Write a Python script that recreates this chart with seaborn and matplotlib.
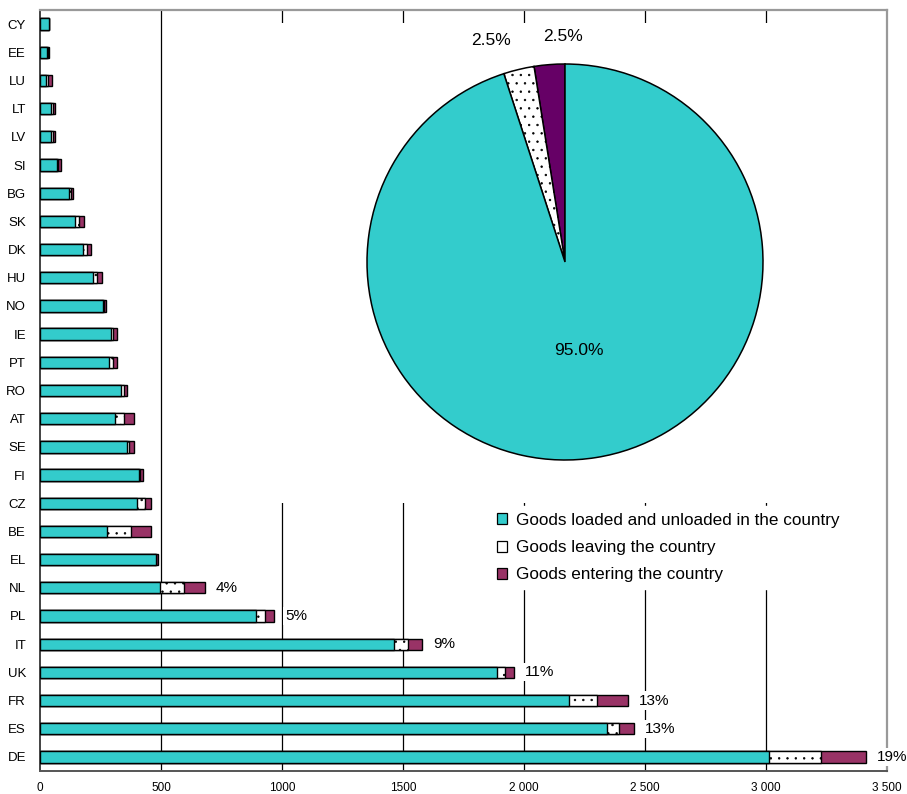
import matplotlib
matplotlib.use("Agg")
import matplotlib.pyplot as plt
from matplotlib.patches import Patch
import numpy as np
import pandas as pd
import seaborn as sns

# ---------------- data ----------------
countries = ["CY", "EE", "LU", "LT", "LV", "SI", "BG", "SK", "DK", "HU", "NO", "IE", "PT", "RO",
             "AT", "SE", "FI", "CZ", "BE", "EL", "NL", "PL", "IT", "UK", "FR", "ES", "DE"]
national = [37, 30, 25, 47, 47, 70, 121, 146, 179, 220, 259, 295, 284, 333,
            311, 358, 408, 402, 278, 478, 497, 893, 1461, 1888, 2186, 2341, 3014]
leaving = [0, 3, 6, 5, 5, 6, 6, 16, 14, 17, 5, 6, 16, 14,
           37, 11, 6, 33, 99, 3, 98, 35, 58, 33, 115, 53, 212]
entering = [0, 5, 19, 10, 9, 9, 9, 20, 16, 19, 9, 18, 19, 11,
            40, 19, 10, 22, 80, 6, 87, 40, 59, 38, 129, 59, 186]

share_countries = ["NL", "PL", "IT", "UK", "FR", "ES", "DE"]
share_values = [4, 5, 9, 11, 13, 13, 19]

series_names = ["Goods loaded and unloaded in the country",
                "Goods leaving the country",
                "Goods entering the country"]

# pie: entering, leaving, national (drawn counter-clockwise from 12 o'clock)
pie_values = [2.5, 2.5, 95.0]

xtick_values = [0, 500, 1000, 1500, 2000, 2500, 3000, 3500]
xtick_labels = ["0", "500", "1000", "1500", "2 000", "2 500", "3 000", "3 500"]

# ---------------- style ----------------
CYAN = "#33CCCC"
BAR_PURPLE = "#993366"
PIE_PURPLE = "#660066"

sns.set_style("white")
plt.rcParams["font.family"] = ["Liberation Sans", "DejaVu Sans"]
plt.rcParams["text.color"] = "black"
plt.rcParams["xtick.color"] = "black"
plt.rcParams["ytick.color"] = "black"
plt.rcParams["xtick.labelcolor"] = "black"
plt.rcParams["ytick.labelcolor"] = "black"
plt.rcParams["hatch.linewidth"] = 0.5
plt.rcParams["hatch.color"] = "#222222"

df = pd.DataFrame({"country": countries, "national": national,
                   "leaving": leaving, "entering": entering})
df["nat_leave"] = df["national"] + df["leaving"]
df["total"] = df["nat_leave"] + df["entering"]

W, H = 907, 794
fig = plt.figure(figsize=(W / 100, H / 100), dpi=100)
ax = fig.add_axes([40 / W, (H - 771) / H, 847 / W, 761 / H])

# grid lines (behind bars)
for v in xtick_values[1:-1]:
    ax.axvline(v, color="black", lw=0.9, zorder=0)

common = dict(y="country", orient="h", width=0.4, edgecolor="black",
              linewidth=1.0, saturation=1, errorbar=None, ax=ax, order=countries)
sns.barplot(data=df, x="total", color=BAR_PURPLE, zorder=2, **common)
sns.barplot(data=df, x="nat_leave", color="white", hatch="..", zorder=3, **common)
sns.barplot(data=df, x="national", color=CYAN, zorder=4, **common)

ax.set_xlim(0, 3500)
ax.set_ylim(len(countries) - 0.5, -0.5)
ax.set_xlabel("")
ax.set_ylabel("")

ax.set_xticks(xtick_values)
ax.set_xticklabels(xtick_labels, fontsize=8.5)
ax.tick_params(axis="x", direction="out", length=5, width=1, color="#333333", pad=3)
ax.tick_params(axis="y", which="major", length=0, pad=10, labelsize=9.5)
ax.set_yticks(np.arange(-0.5, len(countries), 1.0), minor=True)
ax.tick_params(axis="y", which="minor", direction="out", length=5, width=1, color="#555555")

for side in ["top", "right"]:
    ax.spines[side].set_visible(True)
    ax.spines[side].set_color("#999999")
    ax.spines[side].set_linewidth(1.6)
ax.spines["left"].set_color("#222222")
ax.spines["left"].set_linewidth(1.2)
ax.spines["bottom"].set_color("#555555")
ax.spines["bottom"].set_linewidth(1.4)

# share labels at the right of the largest bars
for c, s in zip(share_countries, share_values):
    i = countries.index(c)
    ax.text(df.loc[i, "total"] + 45, i, f"{s}%", ha="left", va="center", fontsize=11,
            zorder=6, bbox=dict(facecolor="white", edgecolor="none", pad=1.5))

# ---------------- pie inset ----------------
pl, pt, pr, pb = 168, 23, 884, 503
pax = fig.add_axes([pl / W, (H - pb) / H, (pr - pl) / W, (pb - pt) / H])
wedges, texts, autotexts = pax.pie(
    pie_values, colors=[PIE_PURPLE, "white", CYAN], startangle=90, counterclock=True,
    autopct="%1.1f%%", pctdistance=1.15,
    wedgeprops=dict(edgecolor="black", linewidth=1.1),
    textprops=dict(fontsize=12.5, color="black"))
wedges[1].set_hatch("..")

# label positions
t1 = np.deg2rad(wedges[0].theta1 + 0.5)
autotexts[0].set_position((1.14 * np.cos(t1), 1.14 * np.sin(t1)))
t2 = np.deg2rad(wedges[1].theta2 + 0.5)
autotexts[1].set_position((1.18 * np.cos(t2), 1.18 * np.sin(t2)))
tm = np.deg2rad((wedges[2].theta1 + wedges[2].theta2) / 2)
autotexts[2].set_position((0.45 * np.cos(tm), 0.45 * np.sin(tm)))

R = 198.0
cx, cy = 565, 262
pax.set_aspect("auto")
pax.set_xlim(-(cx - pl) / R, (pr - cx) / R)
pax.set_ylim(-(pb - cy) / R, (cy - pt) / R)
pax.set_frame_on(True)
for s in pax.spines.values():
    s.set_visible(False)
pax.patch.set_facecolor("white")
pax.set_xticks([])
pax.set_yticks([])

# ---------------- legend ----------------
handles = [Patch(facecolor=CYAN, edgecolor="black", linewidth=0.9),
           Patch(facecolor="white", edgecolor="black", linewidth=0.9),
           Patch(facecolor=BAR_PURPLE, edgecolor="black", linewidth=0.9)]
fig.legend(handles, series_names, loc="upper left",
           bbox_to_anchor=(490 / W, 1 - 506 / H), bbox_transform=fig.transFigure,
           frameon=True, facecolor="white", edgecolor="white", framealpha=1,
           fancybox=False, fontsize=12.3, handlelength=0.6, handleheight=0.6,
           handletextpad=0.5, labelspacing=0.72, borderpad=0.4, borderaxespad=0)

fig.savefig("out.png", dpi=100)
